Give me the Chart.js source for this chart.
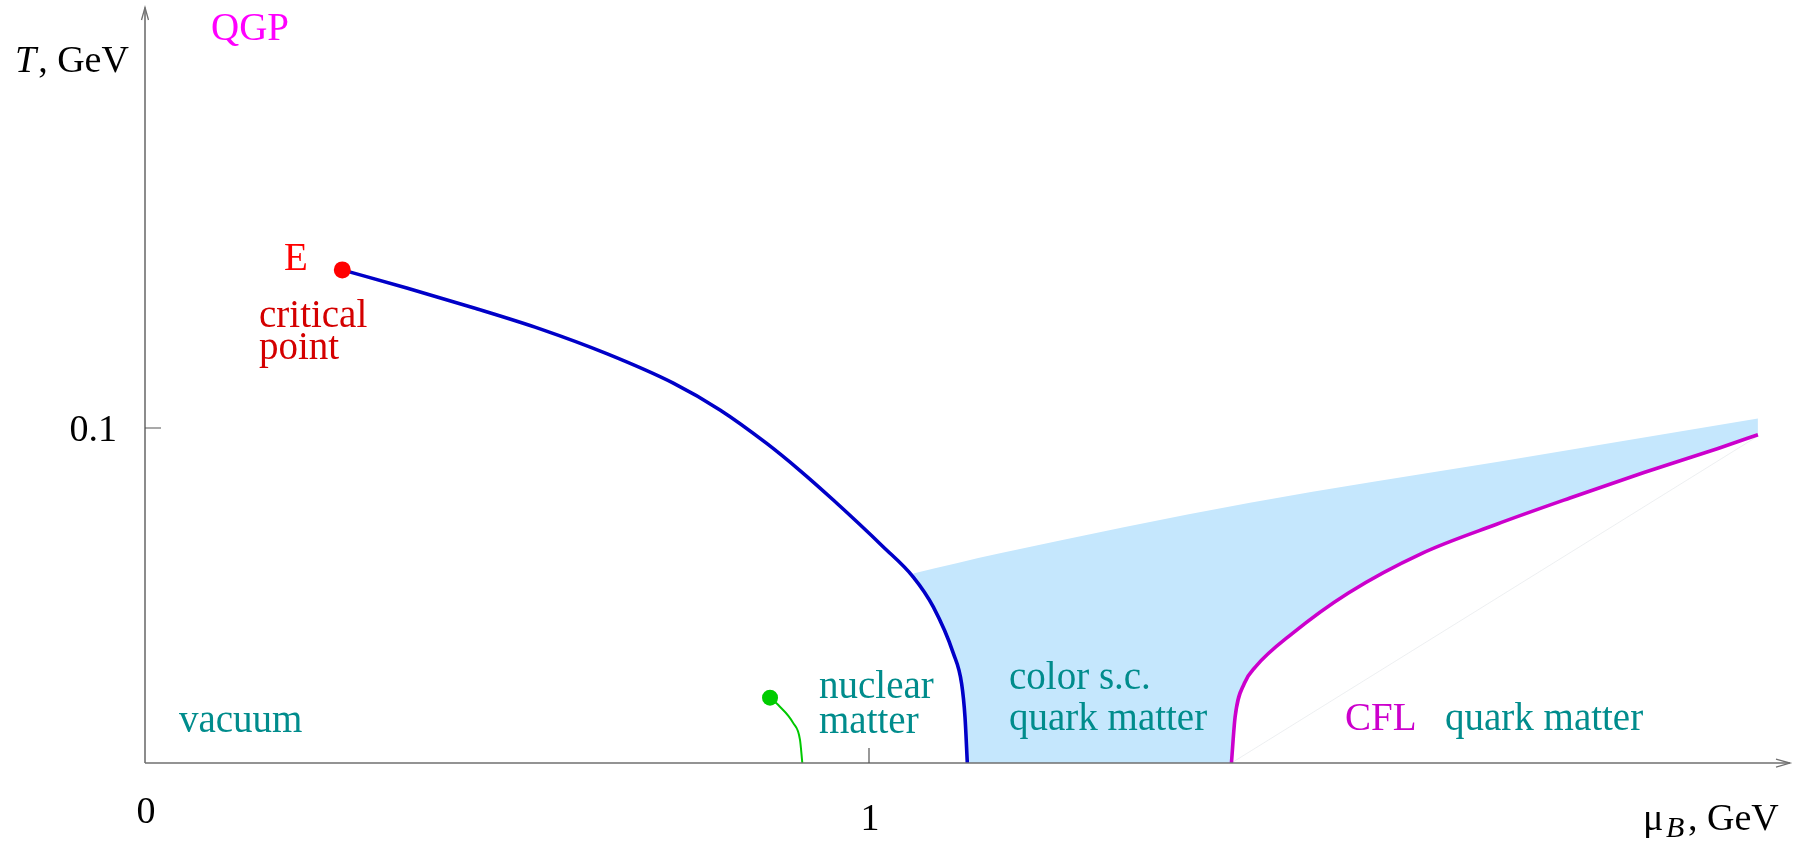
<!DOCTYPE html>
<html><head><meta charset="utf-8">
<script src="https://cdn.jsdelivr.net/npm/chart.js@4.4.1/dist/chart.umd.min.js"></script>
<style>html,body{margin:0;padding:0;background:#fff;overflow:hidden}</style>
</head><body>
<canvas id="c" width="1809" height="844"></canvas>
<script>
// ---- data (mu_B in GeV, T in GeV) ----
const xTicks = [0, 1];
const yTicks = [0.1];
const xTickLabels = ['0', '1'];
const yTickLabels = ['0.1'];

const criticalPoint = [{x: 0.2725, y: 0.1472}];
const firstOrderLine = [
  {x: 0.2725, y: 0.1472}, {x: 0.3615, y: 0.1418}, {x: 0.4535, y: 0.1359},
  {x: 0.5456, y: 0.1296}, {x: 0.6377, y: 0.1222}, {x: 0.7297, y: 0.1134},
  {x: 0.7942, y: 0.1054}, {x: 0.8587, y: 0.0954}, {x: 0.9047, y: 0.0873},
  {x: 0.9507, y: 0.0785}, {x: 1.0198, y: 0.0645}, {x: 1.0612, y: 0.0555},
  {x: 1.0888, y: 0.0466}, {x: 1.1164, y: 0.0328}, {x: 1.1280, y: 0.0236},
  {x: 1.1326, y: 0.0137}, {x: 1.1358, y: 0.0}
];
const nuclearEndpoint = [{x: 0.8633, y: 0.0195}];
const nuclearLine = [
  {x: 0.8633, y: 0.0195}, {x: 0.8747, y: 0.0173}, {x: 0.8954, y: 0.0119},
  {x: 0.9047, y: 0.0069}, {x: 0.9079, y: 0.0}
];
const cflLine = [
  {x: 1.5006, y: 0.0}, {x: 1.5057, y: 0.0138}, {x: 1.5185, y: 0.0238},
  {x: 1.5338, y: 0.0287}, {x: 1.5849, y: 0.0387}, {x: 1.6616, y: 0.0507},
  {x: 1.7638, y: 0.0626}, {x: 1.8660, y: 0.0712}, {x: 1.9682, y: 0.0791},
  {x: 2.0704, y: 0.0867}, {x: 2.1727, y: 0.0939}, {x: 2.2278, y: 0.0980}
];
const colorScUpperEdge = [
  {x: 1.0612, y: 0.0566}, {x: 1.1809, y: 0.0626}, {x: 1.5262, y: 0.0777},
  {x: 1.8715, y: 0.0900}, {x: 2.2278, y: 0.1028}
];
const faintBoundary = [{x: 1.5006, y: 0.0}, {x: 2.2278, y: 0.0976}];

// lower edge of the colour-superconducting region: first-order line, axis, CFL line
const colorScLowerEdge = [...firstOrderLine.filter(p => p.x >= 1.0612), ...cflLine];

// ---- drawing ----
const SERIF = '"Liberation Serif", "DejaVu Serif", serif';
const axisPlugin = {
  id: 'axesAndText',
  afterDatasetsDraw(chart) {
    const ctx = chart.ctx;
    const xs = chart.scales.x, ys = chart.scales.y;
    const x0 = xs.getPixelForValue(0), y0 = ys.getPixelForValue(0);
    ctx.save();
    // axes
    ctx.strokeStyle = '#707070';
    ctx.lineWidth = 1.6;
    ctx.beginPath();
    ctx.moveTo(x0, y0); ctx.lineTo(1790, y0);
    ctx.moveTo(x0, y0); ctx.lineTo(x0, 7.5);
    ctx.stroke();
    ctx.lineWidth = 1.3;
    ctx.beginPath();
    ctx.moveTo(1776, y0 - 4); ctx.lineTo(1790, y0); ctx.lineTo(1776, y0 + 4);
    ctx.moveTo(x0 - 3.5, 20); ctx.lineTo(x0, 7.5); ctx.lineTo(x0 + 3.5, 20);
    ctx.stroke();
    // ticks
    ctx.strokeStyle = '#555';
    ctx.lineWidth = 1.2;
    ctx.beginPath();
    yTicks.forEach(v => { const p = ys.getPixelForValue(v); ctx.moveTo(x0, p); ctx.lineTo(x0 + 16, p); });
    xTicks.forEach(v => { if (v !== 0) { const p = xs.getPixelForValue(v); ctx.moveTo(p, y0); ctx.lineTo(p, y0 - 15); } });
    ctx.stroke();
    // tick labels
    ctx.fillStyle = '#000';
    ctx.font = '38px ' + SERIF;
    ctx.textAlign = 'right';
    ctx.textBaseline = 'alphabetic';
    yTicks.forEach((v, i) => ctx.fillText(yTickLabels[i], x0 - 28, ys.getPixelForValue(v) + 13));
    ctx.textAlign = 'center';
    xTicks.forEach((v, i) => ctx.fillText(xTickLabels[i], xs.getPixelForValue(v) + 1, y0 + (v === 0 ? 60 : 67)));
    // axis titles
    ctx.textAlign = 'left';
    ctx.font = 'italic 38px ' + SERIF;
    ctx.fillText('T', 15, 72);
    const tw = ctx.measureText('T').width;
    ctx.font = '38px ' + SERIF;
    ctx.fillText(', GeV', 15 + tw + 2, 72);
    ctx.fillText('\u03BC', 1643, 830);
    ctx.font = 'italic 30px ' + SERIF;
    ctx.fillText('B', 1666, 837);
    ctx.font = '38px ' + SERIF;
    ctx.fillText(', GeV', 1688, 830);
    // region labels
    ctx.font = '39px ' + SERIF;
    ctx.fillStyle = '#ff00ff';
    ctx.fillText('QGP', 211, 40);
    ctx.fillStyle = '#ff0000';
    ctx.fillText('E', 284, 270);
    ctx.fillStyle = '#d40000';
    ctx.fillText('critical', 259, 327);
    ctx.fillText('point', 259, 359);
    ctx.fillStyle = '#008c8c';
    ctx.fillText('vacuum', 179, 732);
    ctx.fillText('nuclear', 819, 698);
    ctx.fillText('matter', 819, 733);
    ctx.fillText('color s.c.', 1009, 689);
    ctx.fillText('quark matter', 1009, 730);
    ctx.fillText('quark matter', 1445, 730);
    ctx.fillStyle = '#cc00cc';
    ctx.fillText('CFL', 1345, 730);
    ctx.restore();
  }
};

const smooth = {showLine: true, pointRadius: 0, cubicInterpolationMode: 'monotone'};
new Chart(document.getElementById('c'), {
  type: 'scatter',
  data: {
    datasets: [
      {data: criticalPoint, pointRadius: 8.5, pointBackgroundColor: '#ff0000', pointBorderWidth: 0, showLine: false},
      {data: nuclearEndpoint, pointRadius: 8, pointBackgroundColor: '#00cc00', pointBorderWidth: 0, showLine: false},
      {...smooth, data: firstOrderLine, borderColor: '#0000c8', borderWidth: 3.6, fill: false},
      {...smooth, data: cflLine, borderColor: '#cc00cc', borderWidth: 3.6, fill: false},
      {...smooth, data: nuclearLine, borderColor: '#00c800', borderWidth: 2, fill: false},
      {data: faintBoundary, showLine: true, borderColor: 'rgba(215,220,225,0.45)', borderWidth: 1, pointRadius: 0, fill: false},
      {...smooth, data: colorScUpperEdge, borderWidth: 0, borderColor: 'rgba(0,0,0,0)',
       backgroundColor: '#c5e7fd', fill: 7},
      {...smooth, data: colorScLowerEdge, borderWidth: 0, borderColor: 'rgba(0,0,0,0)', fill: false}
    ]
  },
  options: {
    responsive: false,
    devicePixelRatio: 1,
    animation: false,
    layout: {padding: {left: 145, right: 35, top: 9.25, bottom: 81}},
    plugins: {legend: {display: false}, tooltip: {enabled: false}},
    scales: {
      x: {type: 'linear', min: 0, max: 2.25, display: false},
      y: {type: 'linear', min: 0, max: 0.225, display: false}
    }
  },
  plugins: [axisPlugin]
});
</script>
</body></html>
